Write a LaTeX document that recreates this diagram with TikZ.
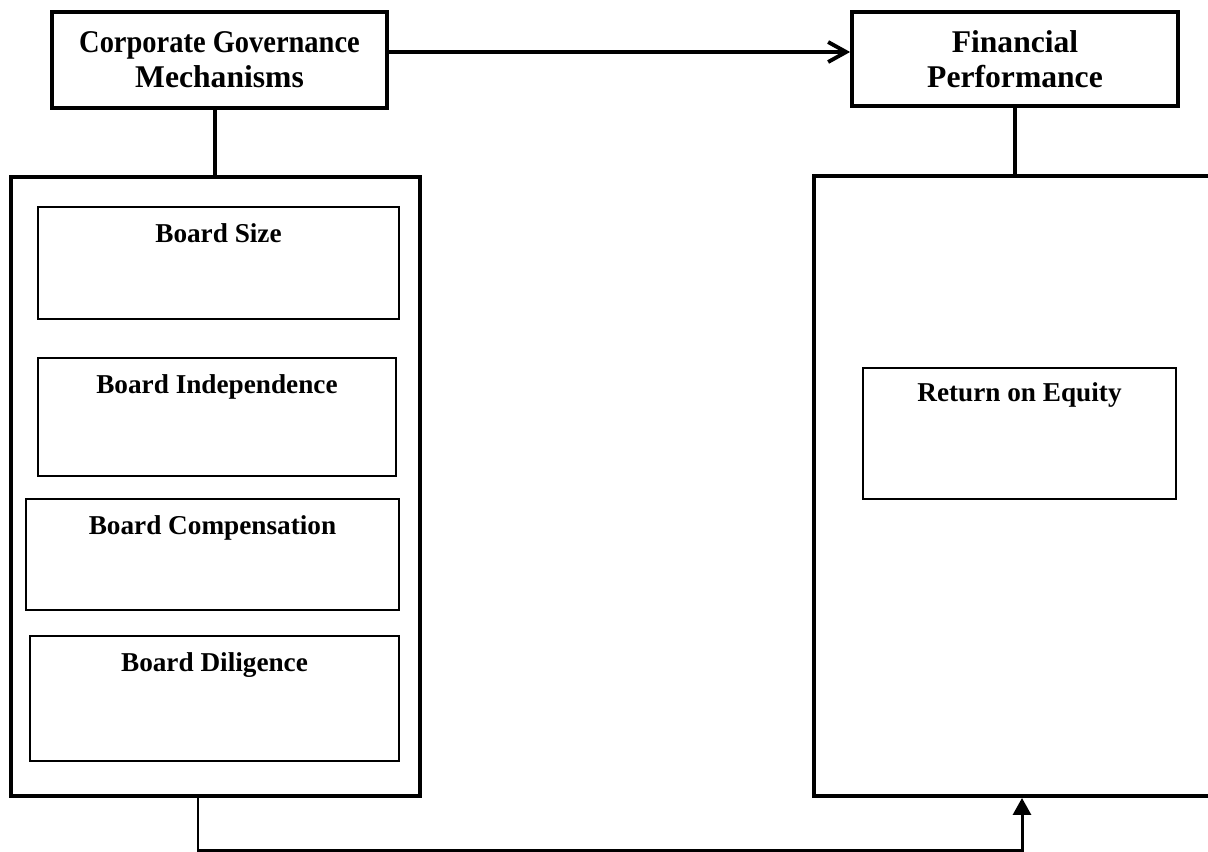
\documentclass[tikz,border=0pt]{standalone}
\usepackage{fontspec}
\setmainfont{Liberation Serif}
\usetikzlibrary{arrows.meta}
\tikzset{every node/.style={font=\bfseries},
  headbox/.style={draw,line width=2.2pt,align=center,font=\fontsize{18}{20}\selectfont\bfseries},
  groupbox/.style={draw,line width=2.3pt},
  itembox/.style={draw,line width=0.7pt},
  itemlbl/.style={anchor=north,yshift=-0.34cm,inner sep=0pt,font=\fontsize{15.5}{18}\selectfont\bfseries}}

\begin{document}
\begin{tikzpicture}[x=0.02cm,y=-0.02cm]
  \clip (0,0) rectangle (1208,852);
  \node[headbox,minimum width=6.7cm,minimum height=1.92cm] (cgm) at (219.5,60) {\scalebox{0.9}[1]{Corporate Governance}\\Mechanisms};
  \node[headbox,minimum width=6.52cm,minimum height=1.88cm] (fp) at (1015,59) {Financial\\Performance};
  \node[groupbox,minimum width=8.18cm,minimum height=12.38cm] (cgmbox) at (215.5,486.5) {};
  \node[groupbox,minimum width=8.32cm,minimum height=12.4cm] (fpbox) at (1022,486) {};
  \foreach \name/\x/\y/\w/\h/\txt in {size/218.5/263/7.22/2.24/Board Size,
      indep/217/417/7.16/2.36/Board Independence,
      comp/212.5/554.5/7.46/2.22/Board Compensation,
      dilig/214.5/698.5/7.38/2.5/Board Diligence}
    \node[itembox,minimum width=\w cm,minimum height=\h cm,label={[itemlbl]north:\txt}] (\name) at (\x,\y) {};
  \node[itembox,minimum width=6.26cm,minimum height=2.62cm,label={[itemlbl,yshift=0.04cm]north:Return on Equity}] (roe) at (1019.5,433.5) {};
  \draw[line width=2.2pt,-{Straight Barb[length=3.6mm,width=4mm]}] ([yshift=0.16cm]cgm.east) -- ([yshift=0.16cm]cgm.east -| fp.west);
  \draw[line width=2.2pt] ([xshift=-0.09cm]cgm.south) -- ([xshift=-0.09cm]cgm.south |- cgmbox.north);
  \draw[line width=2.2pt] (fp.south) -- (fp.south |- fpbox.north);
  \draw[line width=1.7pt,-{Triangle[length=3.4mm,width=3.6mm]}] ([xshift=-0.35cm]cgmbox.south) -- ++(0,53) -| (fpbox.south);
\end{tikzpicture}
\end{document}
